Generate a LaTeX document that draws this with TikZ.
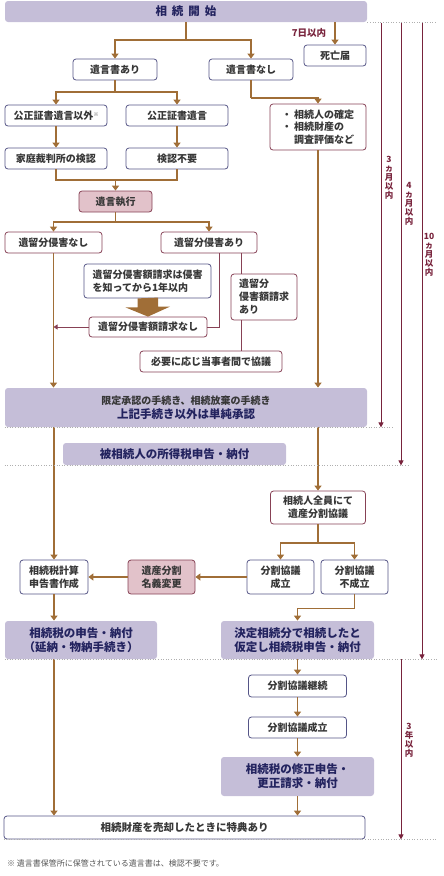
\documentclass[tikz,border=0pt]{standalone}
\usepackage{fontspec}
\setmainfont{Noto Sans CJK JP}
\usepackage{tikz}
\usetikzlibrary{arrows.meta}

\definecolor{flowbrown}{RGB}{160,110,55}
\definecolor{limitred}{RGB}{120,35,60}
\definecolor{lavender}{RGB}{197,190,216}
\definecolor{rosefill}{RGB}{226,194,202}
\definecolor{navyedge}{RGB}{85,85,135}
\definecolor{roseedge}{RGB}{135,65,85}
\definecolor{navytext}{RGB}{35,35,95}
\definecolor{bodytext}{RGB}{55,55,55}
\definecolor{dotgray}{RGB}{175,175,175}

\begin{document}
\begin{tikzpicture}[x=1pt,y=-1pt,
  navybox/.style={draw=navyedge, fill=white, rounded corners=3pt, line width=0.8pt,
    text=bodytext, font=\fontsize{10}{13}\selectfont\bfseries, inner sep=1pt, align=center},
  rosebox/.style={navybox, draw=roseedge},
  pinkbox/.style={navybox, draw=roseedge, fill=rosefill},
  lavbox/.style={navybox, draw=none, fill=lavender, text=navytext,
    font=\fontsize{11.5}{14}\selectfont\bfseries},
  flow/.style={draw=flowbrown, line width=1.6pt},
  arr/.style={flow, -{Triangle[width=7pt,length=5pt]}},
  link/.style={draw=roseedge, line width=0.8pt},
  linkarr/.style={link, -{Triangle[width=5pt,length=4pt]}},
  limit/.style={draw=limitred, line width=0.8pt, -{Triangle[width=5pt,length=5pt]}},
  limitlabel/.style={text=limitred, font=\fontsize{8.5}{9}\selectfont\bfseries, align=center, inner sep=0pt},
  dots/.style={draw=dotgray, line width=0.6pt, dotted}]
\useasboundingbox (0,0) rectangle (444,876);
% draws boxes
\node[lavbox, minimum width=362pt, minimum height=21pt] (start) at (186,11.5) {相\hspace{5pt}続\hspace{5pt}開\hspace{5pt}始};
\node[navybox, minimum width=84pt, minimum height=21pt] (will) at (115,69.5) {遺言書あり};
\node[navybox, minimum width=84pt, minimum height=21pt] (nowill) at (251,69.5) {遺言書なし};
\node[navybox, minimum width=62pt, minimum height=21pt] (death) at (335,55.5) {死亡届};
\node[navybox, minimum width=102pt, minimum height=21pt] (other) at (56,115.5) {公正証書遺言以外\raisebox{3pt}{\fontsize{5}{5}\selectfont ※}};
\node[navybox, minimum width=102pt, minimum height=21pt] (notarial) at (177,115.5) {公正証書遺言};
\node[navybox, minimum width=102pt, minimum height=21pt] (court) at (56,158.5) {家庭裁判所の検認};
\node[navybox, minimum width=102pt, minimum height=21pt] (noprobate) at (177,158.5) {検認不要};
\node[pinkbox, minimum width=73pt, minimum height=21pt] (exec) at (115.5,201.5) {遺言執行};
\node[rosebox, minimum width=96pt, minimum height=46pt, align=left, font=\fontsize{10}{12.5}\selectfont\bfseries] (heirs) at (318,127)
  {・\ 相続人の確定\\・\ 相続財産の\\\phantom{・\ }調査評価など};
\node[rosebox, minimum width=97pt, minimum height=21pt] (noinfr) at (53.5,242.5) {遺留分侵害なし};
\node[rosebox, minimum width=96pt, minimum height=21pt] (infr) at (209,242.5) {遺留分侵害あり};
\node[navybox, minimum width=127pt, minimum height=34pt, align=left] (year) at (147.5,281)
  {遺留分侵害額請求は侵害\\を知ってから1年以内};
\node[rosebox, minimum width=118pt, minimum height=20pt] (noclaim) at (148,327) {遺留分侵害額請求なし};
\node[rosebox, minimum width=66pt, minimum height=46pt, align=left] (claim) at (264,297) {遺留分\\侵害額請求\\あり};
\node[rosebox, minimum width=142pt, minimum height=21pt] (consult) at (211,361.5) {必要に応じ当事者間で協議};
\node[lavbox, minimum width=362pt, minimum height=39pt] (accept) at (186,407.5)
  {{\fontsize{10}{14}\selectfont\color{bodytext}限定承認の手続き、相続放棄の手続き}\\上記手続き以外は単純承認};
\node[lavbox, minimum width=223pt, minimum height=22pt] (income) at (174.5,454) {被相続人の所得税申告・納付};
\node[rosebox, minimum width=95pt, minimum height=33pt] (division) at (318,507.5) {相続人全員にて\\遺産分割協議};
\node[navybox, minimum width=68pt, minimum height=34pt] (calc) at (54,577) {相続税計算\\申告書作成};
\node[pinkbox, minimum width=67pt, minimum height=34pt] (transfer) at (161.5,577) {遺産分割\\名義変更};
\node[navybox, minimum width=67pt, minimum height=34pt] (agreed) at (280.5,577) {分割協議\\成立};
\node[navybox, minimum width=67pt, minimum height=34pt] (failed) at (354.5,577) {分割協議\\不成立};
\node[lavbox, minimum width=152pt, minimum height=38pt] (taxfile) at (81,640) {相続税の申告・納付\\（延納・物納手続き）};
\node[lavbox, minimum width=153pt, minimum height=38pt] (provisional) at (297.5,640) {決定相続分で相続したと\\仮定し相続税申告・納付};
\node[navybox, minimum width=98pt, minimum height=22pt] (ongoing) at (297.5,686) {分割協議継続};
\node[navybox, minimum width=98pt, minimum height=21pt] (agreedlate) at (297.5,727.5) {分割協議成立};
\node[lavbox, minimum width=153pt, minimum height=39pt] (amend) at (297.5,776.5) {相続税の修正申告・\\更正請求・納付};
\node[navybox, minimum width=361pt, minimum height=23pt, font=\fontsize{10.5}{13}\selectfont\bfseries] (sale) at (184.5,827.5) {相続財産を売却したときに特典あり};
\node[anchor=west, text=bodytext!85, font=\fontsize{8}{10}\selectfont, inner sep=0pt] (footnote) at (7,863) {※ 遺言書保管所に保管されている遺言書は、検認不要です。};
% junctions
\coordinate (j1) at (186,40);
\coordinate (j2) at (115,92);
\coordinate (j3) at (115.5,180);
\coordinate (j4) at (251,98);
\coordinate (j5) at (115.5,222);
\coordinate (j6) at (318,543);
\coordinate (cx) at (241,0);
% draws arrows
\draw[flow] (start) -- (j1);
\draw[arr] (j1) -| (will);
\draw[arr] (j1) -| (nowill);
\draw[arr] (death.north |- start.south) -- (death);
\draw[flow] (will) -- (j2);
\draw[arr] (j2) -| (other);
\draw[arr] (j2) -| (notarial);
\draw[arr] (other) -- (court);
\draw[arr] (notarial) -- (noprobate);
\draw[flow] (court) |- (j3) -| (noprobate);
\draw[arr] (j3) -- (exec);
\draw[flow] (nowill) -- (j4);
\draw[arr] (j4) -| (heirs);
\draw[arr] (heirs) -- (heirs |- accept.north);
\draw[flow] (exec) -- (j5);
\draw[arr] (j5) -| (noinfr);
\draw[arr] (j5) -| (infr);
\draw[arr] (noinfr) -- (noinfr |- accept.north);
\draw[link] ([xshift=10pt]infr.south) |- (noclaim);
\draw[link] (infr.south -| cx) -- (claim.north -| cx);
\draw[link] (claim.south -| cx) -- (consult.north -| cx);
\draw[linkarr] (noclaim) -- (noclaim -| noinfr);
\fill[flowbrown] ([xshift=-10pt]year.south) -- ++(0,9) -- ++(-12,0) -- (noclaim.north)
  -- ++(22,-10) -- ++(-12,0) -- ++(0,-9) -- cycle;
\draw[arr] (accept.south -| calc) -- (calc);
\draw[arr] (accept.south -| division) -- (division);
\draw[flow] (division) -- (j6);
\draw[arr] (j6) -| (agreed);
\draw[arr] (j6) -| (failed);
\draw[arr] (agreed) -- (transfer);
\draw[arr] (transfer) -- (calc);
\draw[arr] (calc) -- (calc |- taxfile.north);
\draw[arr] (failed.south) -- ++(0,14) -| (provisional);
\draw[arr] (provisional) -- (ongoing);
\draw[arr] (ongoing) -- (agreedlate);
\draw[arr] (agreedlate) -- (amend);
\draw[arr] (amend) -- (amend |- sale.north);
\draw[arr] (taxfile.south -| calc) -- (calc |- sale.north);
% draws time limits
\coordinate (m3) at (381,22.5);
\coordinate (m4) at (401,22.5);
\coordinate (m10) at (422,22.5);
\coordinate (y3) at (401,659);
\draw[dots] (start.south east) -- ++(70,0);
\draw[dots] (accept.south west) -- ++(388,0);
\draw[dots] (income.south -| accept.west) -- ++(405,0);
\draw[dots] (taxfile.south west) -- ++(432,0);
\draw[dots] (sale.south west) -- ++(433,0);
\draw[limit] (m3) -- (m3 |- accept.south);
\draw[limit] (m4) -- (m4 |- income.south);
\draw[limit] (m10) -- (m10 |- taxfile.south);
\draw[limit] (y3) -- (y3 |- sale.south);
% labels time limits
\node[text=limitred, font=\fontsize{9.5}{10}\selectfont\bfseries] (week) at (309,33) {7日以内};
\node[limitlabel] (l3) at (389,178) {3\\ヵ\\月\\以\\内};
\node[limitlabel] (l4) at (409,203.5) {4\\ヵ\\月\\以\\内};
\node[limitlabel] (l10) at (429,254.5) {10\\ヵ\\月\\以\\内};
\node[limitlabel] (ly3) at (409,740.5) {3\\年\\以\\内};
\end{tikzpicture}
\end{document}
